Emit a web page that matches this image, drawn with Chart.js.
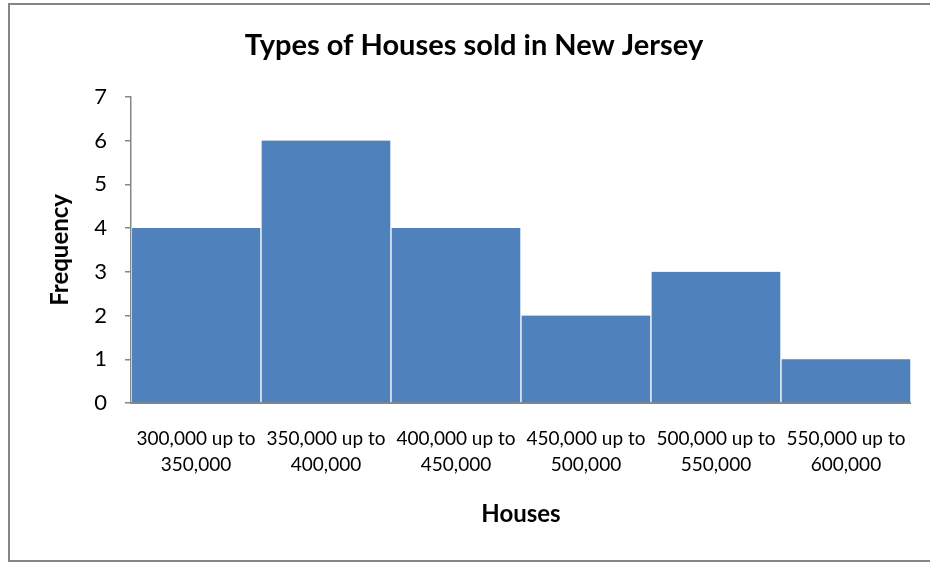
<!DOCTYPE html>
<html>
<head>
<meta charset="utf-8">
<script src="https://cdn.jsdelivr.net/npm/chart.js@4"></script>
<style>
  html, body { margin: 0; padding: 0; background: #ffffff; }
  #wrap { position: relative; width: 930px; height: 565px; }
</style>
</head>
<body>
<div id="wrap"><canvas id="houseChart" width="930" height="565"></canvas></div>
<script>
/* --------------- Data --------------------- */
const priceRanges = [
    ["300,000 up to", "350,000"],
    ["350,000 up to", "400,000"],
    ["400,000 up to", "450,000"],
    ["450,000 up to", "500,000"],
    ["500,000 up to", "550,000"],
    ["550,000 up to", "600,000"]
];
const frequency = [4, 6, 4, 2, 3, 1];
const yTicks = [0, 1, 2, 3, 4, 5, 6, 7];

const barColor = "#4F81BD";
const axisColor = "#868686";
const fontName = "Lato, 'Open Sans', sans-serif";

/* --------------- Outer frame like the spreadsheet chart box --------------------- */
const frame = {
    id: "frame",
    beforeDraw(chart) {
        const ctx = chart.ctx;
        ctx.save();
        ctx.fillStyle = "#ffffff";
        ctx.fillRect(0, 0, chart.width, chart.height);
        ctx.strokeStyle = axisColor;
        ctx.lineWidth = 2;
        ctx.strokeRect(9, 4, 940, 557);
        ctx.restore();
    }
};

/* --------------- Chart --------------------- */
let houseChart = new Chart(document.getElementById("houseChart"), {
    type: "bar",
    plugins: [frame],
    data: {
        labels: priceRanges,
        datasets: [{
            data: frequency,
            backgroundColor: barColor,
            borderColor: "#ffffff",
            borderWidth: { left: 1, right: 1, top: 0, bottom: 0 },
            categoryPercentage: 1,
            barPercentage: 1
        }]
    },
    options: {
        responsive: false,
        animation: false,
        layout: { padding: { left: 37, right: 19, top: 0, bottom: 0 } },
        plugins: {
            legend: { display: false },
            tooltip: { enabled: false },
            title: {
                display: true,
                text: "Types of Houses sold in New Jersey",
                color: "#000000",
                font: { family: fontName, size: 29, weight: "bold", lineHeight: 1.2 },
                padding: { top: 28, bottom: 34 }
            }
        },
        scales: {
            x: {
                afterFit: s => { s.height = 162; },
                grid: { drawOnChartArea: false, drawTicks: false },
                border: { color: axisColor, width: 2 },
                ticks: {
                    color: "#000000",
                    maxRotation: 0,
                    autoSkip: false,
                    padding: 23,
                    font: { family: fontName, size: 19, lineHeight: 1.37 }
                },
                title: {
                    display: true,
                    text: "Houses",
                    color: "#000000",
                    font: { family: fontName, size: 24, weight: "bold", lineHeight: 1.2 },
                    padding: { top: 0, bottom: 36 }
                }
            },
            y: {
                min: 0,
                max: 7,
                afterFit: s => { s.width = 94; },
                afterBuildTicks: s => { s.ticks = yTicks.map(v => ({ value: v })); },
                grid: { drawOnChartArea: false, tickLength: 6, color: axisColor, lineWidth: 1.5 },
                border: { color: axisColor, width: 1.5 },
                ticks: {
                    color: "#000000",
                    padding: 18,
                    font: { family: fontName, size: 22 }
                },
                title: {
                    display: true,
                    text: "Frequency",
                    color: "#000000",
                    font: { family: fontName, size: 24, weight: "bold", lineHeight: 1.2 },
                    padding: { top: 9, bottom: 0 }
                }
            }
        }
    }
});
</script>
</body>
</html>
